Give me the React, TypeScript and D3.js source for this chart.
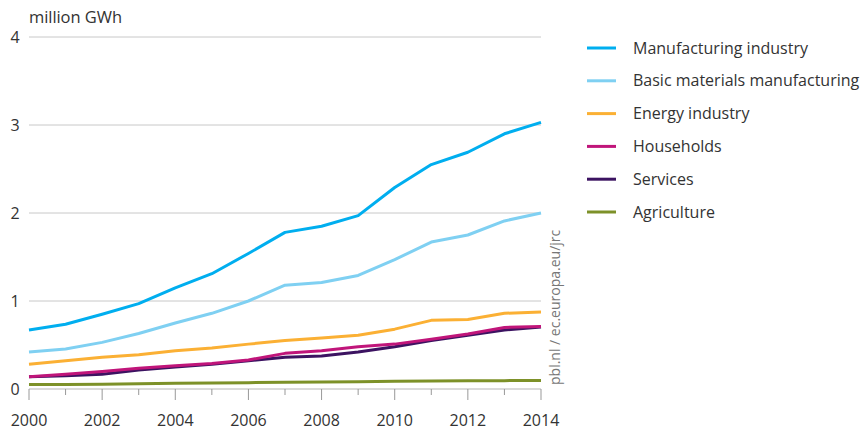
import React from "react";
import * as d3 from "d3";

const years = [2000, 2001, 2002, 2003, 2004, 2005, 2006, 2007, 2008, 2009, 2010, 2011, 2012, 2013, 2014];
const manufacturing = [0.67, 0.735, 0.85, 0.97, 1.15, 1.31, 1.54, 1.78, 1.85, 1.97, 2.29, 2.55, 2.69, 2.9, 3.03];
const basicMaterials = [0.42, 0.455, 0.53, 0.63, 0.75, 0.86, 1.0, 1.18, 1.21, 1.29, 1.47, 1.67, 1.75, 1.91, 2.0];
const energy = [0.28, 0.32, 0.36, 0.39, 0.435, 0.465, 0.51, 0.55, 0.58, 0.61, 0.68, 0.78, 0.79, 0.86, 0.875];
const households = [0.14, 0.167, 0.2, 0.235, 0.265, 0.29, 0.33, 0.405, 0.435, 0.48, 0.51, 0.565, 0.625, 0.7, 0.71];
const services = [0.14, 0.15, 0.167, 0.215, 0.25, 0.28, 0.32, 0.36, 0.375, 0.42, 0.48, 0.55, 0.61, 0.67, 0.705];
const agriculture = [0.05, 0.052, 0.055, 0.06, 0.065, 0.068, 0.072, 0.078, 0.08, 0.082, 0.088, 0.092, 0.094, 0.095, 0.097];

const seriesNames = ["Manufacturing industry", "Basic materials manufacturing", "Energy industry", "Households", "Services", "Agriculture"];
const seriesColors = ["#00aeef", "#7fd0f2", "#fbb034", "#c0157a", "#3c1361", "#7d9129"];
const seriesValues = [manufacturing, basicMaterials, energy, households, services, agriculture];
const yTicks = [0, 1, 2, 3, 4];
const xLabelYears = [2000, 2002, 2004, 2006, 2008, 2010, 2012, 2014];
const unitLabel = "million GWh";
const sourceLabel = "pbl.nl / ec.europa.eu/jrc";

const FONT = "'Open Sans', 'Noto Sans', sans-serif";

export default function App() {
  const width = 863;
  const height = 432;
  const x = d3.scaleLinear().domain([2000, 2014]).range([29, 541]);
  const y = d3.scaleLinear().domain([0, 4]).range([389, 37]);
  const line = d3
    .line<number>()
    .x((_, i) => x(years[i]))
    .y((d) => y(d));

  const drawOrder = [5, 4, 3, 2, 1, 0];

  return (
    <svg
      width={width}
      height={height}
      style={{ position: "absolute", left: 0, top: 0, background: "#fff" }}
      fontFamily={FONT}
    >
      <text x={29} y={23} fontSize={16.5} fill="#333" textLength={93} lengthAdjust="spacing">{unitLabel}</text>
      {yTicks.map((t) => (
        <g key={t}>
          {t > 0 && (
            <line x1={x(2000)} x2={x(2014)} y1={y(t)} y2={y(t)} stroke="#c8c8c8" strokeWidth={1} />
          )}
          <text x={15} y={y(t) + 6} fontSize={16} fill="#333" textAnchor="middle">{t}</text>
        </g>
      ))}
      <line x1={x(2000)} x2={x(2014)} y1={y(0)} y2={y(0)} stroke="#b5b5b5" strokeWidth={1} />
      {years.map((yr) => (
        <line
          key={yr}
          x1={x(yr)}
          x2={x(yr)}
          y1={y(0)}
          y2={y(0) + (yr % 2 === 0 ? 11 : 6)}
          stroke="#999"
          strokeWidth={1}
        />
      ))}
      {xLabelYears.map((yr) => (
        <text key={yr} x={x(yr)} y={426} fontSize={16} fill="#333" textAnchor="middle">{yr}</text>
      ))}
      {drawOrder.map((i) => (
        <path
          key={seriesNames[i]}
          d={line(seriesValues[i]) || ""}
          fill="none"
          stroke={seriesColors[i]}
          strokeWidth={3}
          strokeLinejoin="round"
        />
      ))}
      <text
        transform={`translate(560, 385) rotate(-90)`}
        fontSize={14}
        fill="#777"
      >
        {sourceLabel}
      </text>
      {seriesNames.map((name, i) => {
        const ly = 48 + i * 32.8;
        return (
          <g key={name}>
            <line x1={587} x2={616} y1={ly} y2={ly} stroke={seriesColors[i]} strokeWidth={3} />
            <text x={633} y={ly + 5.5} fontSize={16} fill="#333">{name}</text>
          </g>
        );
      })}
    </svg>
  );
}
